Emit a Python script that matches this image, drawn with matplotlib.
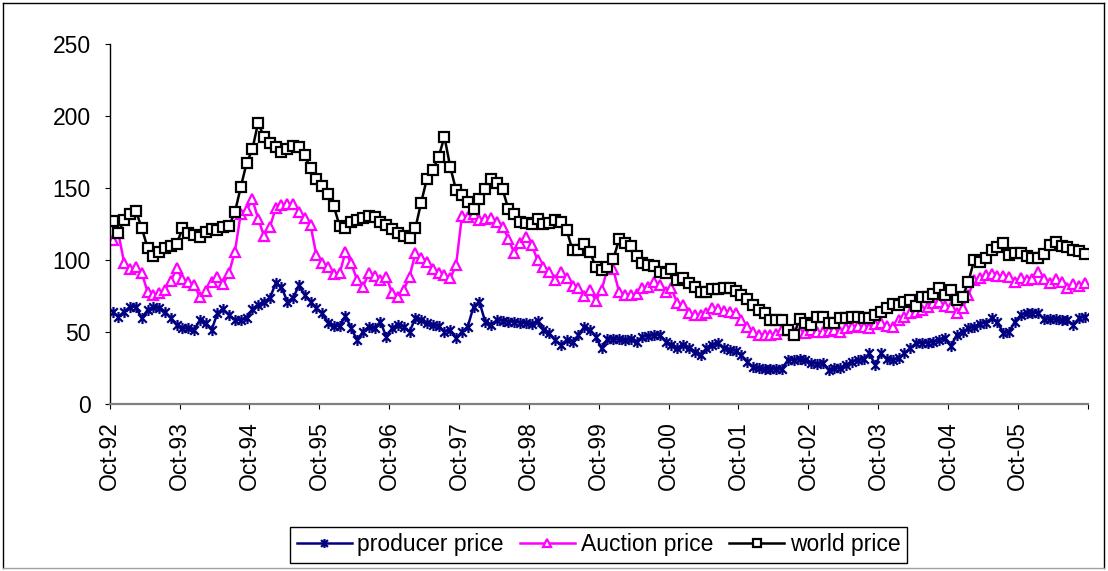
import numpy as np
import matplotlib
matplotlib.use("Agg")
import matplotlib.pyplot as plt
from matplotlib.path import Path
from matplotlib.lines import Line2D

plt.rcParams['font.family'] = ['Liberation Sans', 'DejaVu Sans']

# monthly prices, Oct-92 .. Sep-06 (one row = one marketing year)
producer_price = [
    64, 60.5, 64, 67.4, 67.4, 59.3, 65.1, 67.4, 66.2, 64, 59.3, 54.7,
    52.4, 52.4, 51.2, 58.2, 55.8, 51.2, 62.8, 65.6, 61.6, 58.2, 58.2, 59.3,
    65.6, 68.6, 70.9, 73.2, 83.6, 81.3, 70.9, 73.2, 82.4, 75.5, 70.9, 66.2,
    62.8, 56.3, 54, 54, 61, 52.3, 44.2, 50, 53.5, 52.3, 57, 46.6,
    52.3, 54.7, 53.5, 50, 59.3, 58.1, 55.8, 54.7, 54, 50, 51.2, 45.4,
    50, 53.5, 67.4, 70.9, 57, 54.7, 58.1, 57.7, 57, 57, 56.3, 55.8,
    55.4, 57.7, 51.2, 48.9, 44.2, 40.8, 44.2, 43, 47.5, 53.3, 51.5, 46.6,
    38.4, 44.7, 44.7, 44.7, 44.2, 44.7, 43.1, 46.6, 47, 47.7, 47.7, 43.1,
    40.8, 38.4, 40.8, 38.4, 36.1, 33.8, 38.4, 40.8, 41.9, 38.4, 37.3, 36.8,
    33.8, 29.2, 25.3, 24.6, 23.9, 23.9, 23.9, 23.9, 30.4, 30.4, 30.8, 30.4,
    28.5, 27.6, 28, 23.4, 24.6, 24.6, 26.9, 29.2, 30.4, 30.8, 35, 26.9,
    35, 30.8, 30.4, 31.5, 35, 38.4, 41.9, 42.4, 42.4, 43.1, 44.2, 45.4,
    40.1, 47.7, 50, 52.3, 53.5, 55.4, 56.3, 59.3, 57, 48.9, 50, 57,
    61.6, 62.8, 63.2, 63.2, 58.6, 58.6, 58.6, 58.1, 58.1, 54.7, 59.3, 60.5,
]

auction_price = [
    113.7, 118.3, 97.5, 93.3, 95.2, 91, 77.8, 75.5, 77.1, 79, 85.4, 94,
    86.4, 84.8, 82.4, 74.3, 78.3, 84.3, 88.2, 83.1, 91, 105.6, 131.7, 134.5,
    142, 128.7, 116.5, 122.5, 135.7, 138, 138.5, 138.7, 133.4, 129.4, 124.1, 103.3,
    97.5, 95.2, 89.8, 90.5, 105.6, 97.5, 85.9, 81.3, 90.5, 88.9, 85.9, 88.2,
    77.1, 74.3, 79, 88.2, 104.4, 101, 98.6, 93.3, 91, 89.4, 87.1, 96.3,
    130.4, 130, 132, 128, 128.7, 129.4, 126.4, 123, 114.8, 104.4, 111.4, 116,
    110.2, 99.8, 95.2, 91.7, 85.9, 91.7, 87.1, 82, 80.7, 75, 79.2, 71.6,
    79, 94, 93.3, 77.8, 75.5, 75.5, 76.2, 80.1, 81.3, 84.8, 82.4, 77.8,
    80.1, 69.7, 68.5, 62.8, 61.6, 61.6, 62.8, 66.2, 65.5, 64.6, 63.9, 62.8,
    58.1, 53.5, 50, 47.7, 47.7, 47.7, 48.4, 51.2, 51.2, 48.9, 50, 48.9,
    51.2, 50, 49.5, 50.3, 51.2, 50, 52.3, 53.5, 54, 53.5, 52.3, 55.4,
    56.3, 54, 53.5, 58.1, 60.5, 62.8, 64, 65.1, 67.4, 69.7, 70.9, 67.9,
    67.4, 62.8, 66.2, 75.5, 85.9, 87.1, 89.4, 90.1, 88.7, 88.7, 88.2, 84.7,
    87.7, 85.9, 86.4, 91.7, 86.4, 84.1, 86.4, 84.7, 80.1, 83.1, 81.7, 83.6,
]

world_price = [
    127, 118.8, 128, 131.7, 133.8, 122.3, 108.4, 102.8, 105.6, 108, 109.8, 111,
    121.8, 118.3, 117.2, 116, 119, 121.3, 120.6, 123, 123.6, 133, 150.3, 167,
    176.7, 195.4, 185.4, 181.5, 178.5, 175, 177.3, 179, 178.5, 172.7, 163.5, 156.5,
    151.2, 145.4, 137.3, 123.4, 121.8, 126, 127.6, 129.4, 130.4, 130, 126.2, 124.1,
    121.1, 118.8, 116.5, 115.5, 121.8, 139.8, 156.5, 162.3, 171.6, 185.4, 164.6, 148.4,
    145, 140.3, 135, 142.6, 148.9, 156.5, 153.5, 148.9, 135, 131.7, 126.4, 125.7,
    124.8, 128.7, 124.8, 125.3, 127.6, 126.4, 120.6, 106.7, 107, 110.7, 105.6, 94.7,
    92.8, 94.7, 100.3, 114.2, 111.4, 109.5, 102.6, 97.5, 96.3, 95.6, 91.7, 90.5,
    93.3, 85.9, 87.1, 83.6, 80.8, 77.8, 77.8, 79.9, 79.9, 80.1, 80.1, 78.5,
    75.5, 72.5, 68.5, 65.1, 62.8, 58.1, 58.1, 58.1, 51.2, 47.7, 58.6, 55.8,
    54.7, 60, 60.4, 56, 56.3, 59.3, 59.3, 60, 60, 59.3, 59.3, 61.6,
    63.9, 66.2, 69, 68.5, 70.9, 72, 67.9, 74.3, 74.3, 76.2, 80.1, 75.5,
    79, 72, 74.3, 84.7, 99.8, 98.6, 101, 106.7, 109, 111.4, 103.3, 104.4,
    104.4, 102.6, 101, 101, 104, 110.2, 112.5, 109.5, 109, 106.7, 106.3, 104,
]

tick_labels = ['Oct-92', 'Oct-93', 'Oct-94', 'Oct-95', 'Oct-96', 'Oct-97', 'Oct-98',
               'Oct-99', 'Oct-00', 'Oct-01', 'Oct-02', 'Oct-03', 'Oct-04', 'Oct-05']

W, H = 1108, 571
fig = plt.figure(figsize=(W / 100, H / 100), dpi=100)
ax = fig.add_axes([109.7 / W, 1 - 403.7 / H, 978 / W, 359.7 / H])

# excel style asterisk marker (x plus a vertical bar)
asterisk = Path([(-1, -1), (1, 1), (-1, 1), (1, -1), (0, -1.3), (0, 1.3)],
                [Path.MOVETO, Path.LINETO] * 3)

n = len(world_price)
x = np.arange(n) + 0.5   # points sit between the tick marks

ax.plot(x, producer_price, color='#000080', lw=1.8, marker=asterisk, ms=8,
        mew=1.6, mec='#000080', label='producer price')
ax.plot(x, auction_price, color='#FF00FF', lw=1.8, marker='^', ms=7,
        mfc='white', mec='#FF00FF', mew=1.6, label='Auction price')
ax.plot(x, world_price, color='black', lw=1.8, marker='s', ms=6.5,
        mfc='white', mec='black', mew=1.6, label='world price')

ax.set_xlim(0, n)
ax.set_ylim(0, 250)
ax.set_xticks(np.arange(0, n + 1, 12))
ax.set_xticklabels(tick_labels + [''] * (len(np.arange(0, n + 1, 12)) - len(tick_labels)))
ax.set_yticks(range(0, 251, 50))
ax.tick_params(axis='x', rotation=90, labelsize=16.5, length=3.6, pad=9)
ax.tick_params(axis='y', labelsize=16.5, length=3.6, pad=10)

for side in ['top', 'right']:
    ax.spines[side].set_visible(False)
ax.spines['bottom'].set_color('#808080')
ax.spines['bottom'].set_linewidth(1.6)
ax.spines['left'].set_linewidth(1.0)

fig.legend(loc='center', bbox_to_anchor=(598.5 / W, 1 - 545 / H), ncol=3,
           frameon=True, fancybox=False, edgecolor='black', framealpha=1,
           fontsize=16.5, handlelength=2.4, handletextpad=0.25,
           columnspacing=0.7, borderpad=0.3, markerscale=0.8)

# chart area border
x0, x1, y0, y1 = 3 / W, 1104 / W, 3 / H, 1 - 3 / H
for xs, ys, c in [([x0, x0], [y0, y1], 'black'), ([x0, x1], [y1, y1], 'black'),
                  ([x1, x1], [y0, y1], 'black'), ([x0, x1], [y0, y0], '#A0A0A0')]:
    fig.add_artist(Line2D(xs, ys, color=c, lw=1.0, transform=fig.transFigure))

fig.savefig('out.png', dpi=100)
